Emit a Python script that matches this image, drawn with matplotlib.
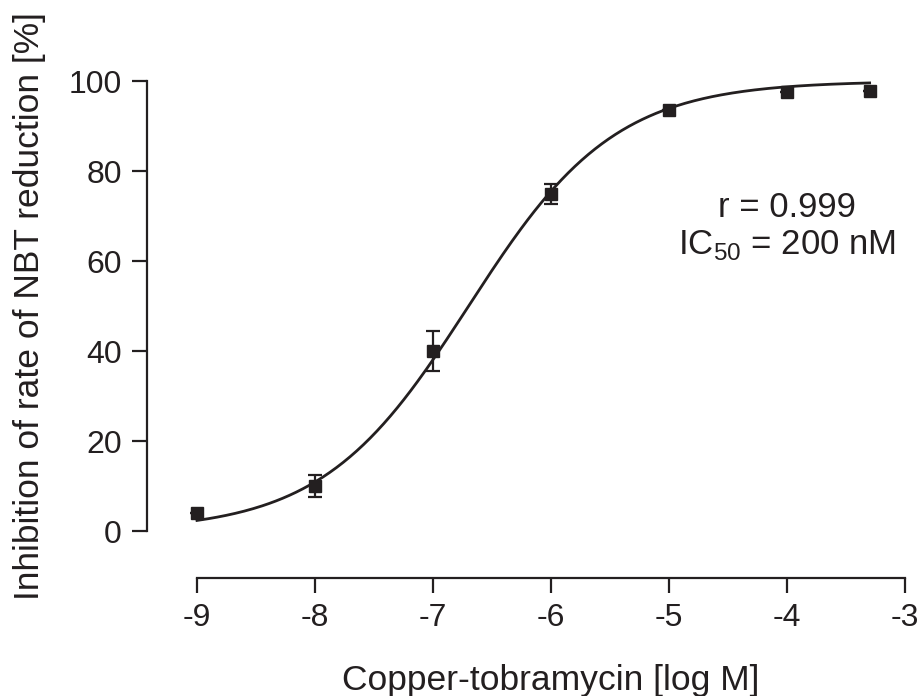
import numpy as np
import matplotlib
matplotlib.use('Agg')
import matplotlib.pyplot as plt

plt.rcParams['font.family'] = ['Liberation Sans', 'DejaVu Sans']
plt.rcParams['mathtext.fontset'] = 'custom'
plt.rcParams['mathtext.rm'] = 'Liberation Sans'

# measured points (log M, % inhibition, SEM)
log_conc = [-9, -8, -7, -6, -5, -4, -3.3]
inhibition = [4.0, 10.0, 40.0, 75.0, 93.5, 97.5, 97.8]
sem = [0.0, 2.5, 4.4, 2.2, 0.0, 0.0, 0.0]

# sigmoidal fit parameters (IC50 = 200 nM)
fit_bottom = 0.0
fit_top = 100.0
fit_log_ic50 = np.log10(200e-9)
fit_hill = 0.7

ink = '#231f20'

fig = plt.figure(figsize=(9.22, 6.96), dpi=100)
ax = fig.add_axes([0.1594, 0.1695, 0.8222, 0.7205])

xfit = np.linspace(-9, -3.3, 300)
yfit = fit_bottom + (fit_top - fit_bottom) / (1 + 10 ** ((fit_log_ic50 - xfit) * fit_hill))
ax.plot(xfit, yfit, color=ink, lw=2.0, zorder=2)

ax.errorbar(log_conc, inhibition, yerr=sem, fmt='s', color=ink, ms=8.5,
            ecolor=ink, elinewidth=1.6, capsize=5, capthick=1.6, zorder=3)

ax.set_xlim(-9.424, -3.0)
ax.set_ylim(-10.4, 101.0)
ax.spines['top'].set_visible(False)
ax.spines['right'].set_visible(False)
ax.spines['left'].set_bounds(0, 100)
ax.spines['bottom'].set_bounds(-9, -3)
for s in ('left', 'bottom'):
    ax.spines[s].set_linewidth(1.6)
    ax.spines[s].set_color(ink)

ax.set_xticks([-9, -8, -7, -6, -5, -4, -3])
ax.set_xticklabels(['-9', '-8', '-7', '-6', '-5', '-4', '-3'])
ax.set_yticks([0, 20, 40, 60, 80, 100])
ax.tick_params(direction='out', length=11, width=1.6, color=ink,
               labelsize=23, labelcolor=ink, pad=7)

ax.set_xlabel('Copper-tobramycin [log M]', fontsize=25.5, color=ink, labelpad=22)
ax.xaxis.label.set_x(0.532)
ax.set_ylabel('Inhibition of rate of NBT reduction [%]', fontsize=25.5, color=ink)
ax.yaxis.set_label_coords(-0.133, 0.542)

ax.text(-4.0, 72.0, 'r = 0.999', fontsize=25, color=ink, ha='center', va='center')
ax.text(-4.0, 63.6, r'IC$_{50}$ = 200 nM', fontsize=25, color=ink, ha='center', va='center')

fig.savefig('out.png', dpi=100)
